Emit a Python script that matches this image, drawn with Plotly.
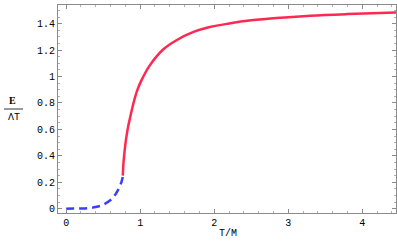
import plotly.graph_objects as go

# Data
red_x = [0.765, 0.775, 0.79, 0.81, 0.835, 0.862, 0.91, 0.96, 1.02, 1.13, 1.31, 1.49, 1.72, 1.94, 2.2, 2.5, 2.9, 3.3, 3.8, 4.46]
red_y = [0.25, 0.35, 0.44, 0.53, 0.615, 0.685, 0.80, 0.895, 0.975, 1.085, 1.205, 1.275, 1.338, 1.375, 1.402, 1.426, 1.446, 1.461, 1.473, 1.485]

blue_x = [0.0, 0.1, 0.2, 0.3, 0.4, 0.5, 0.6, 0.65, 0.7, 0.74, 0.765]
blue_y = [0.0, 0.0002, 0.001, 0.004, 0.012, 0.03, 0.065, 0.095, 0.14, 0.19, 0.24]

x_ticks = [0, 1, 2, 3, 4]
x_labels = ["0", "1", "2", "3", "4"]
y_ticks = [0, 0.2, 0.4, 0.6, 0.8, 1.0, 1.2, 1.4]
y_labels = ["0", "0.2", "0.4", "0.6", "0.8", "1", "1.2", "1.4"]

RED = "rgb(255,40,80)"
BLUE = "rgb(60,60,255)"
FRAME = "#8a8a8a"
FONT = "Liberation Mono"

fig = go.Figure()
fig.add_trace(go.Scatter(x=blue_x, y=blue_y, mode="lines",
                         line=dict(color=BLUE, width=2.5, dash="8px,5px", shape="spline"),
                         showlegend=False, hoverinfo="skip"))
fig.add_trace(go.Scatter(x=red_x, y=red_y, mode="lines",
                         line=dict(color=RED, width=2.5, shape="spline"),
                         showlegend=False, hoverinfo="skip"))

axis_common = dict(showgrid=False, zeroline=False, showline=True, linecolor=FRAME, linewidth=1,
                   mirror="ticks", ticks="inside", tickcolor=FRAME, ticklen=4, tickwidth=1,
                   tickfont=dict(family=FONT, size=10, color="#000"))

fig.update_layout(
    width=397, height=246,
    margin=dict(l=58, r=1, t=5, b=33),
    paper_bgcolor="white", plot_bgcolor="white",
    xaxis=dict(range=[-0.11, 4.455], tickvals=x_ticks, ticktext=x_labels,
               minor=dict(dtick=0.2, tick0=0, ticklen=2, tickcolor="#b0b0b0", ticks="inside"),
               **axis_common),
    yaxis=dict(range=[-0.033, 1.542], tickvals=y_ticks, ticktext=y_labels,
               minor=dict(dtick=0.05, tick0=0, ticklen=2, tickcolor="#b0b0b0", ticks="inside"),
               **axis_common),
)

# Axis titles
fig.add_annotation(text="T/M", xref="paper", yref="paper", x=(228 - 58) / 338, y=-(233 - 213) / 208,
                   showarrow=False, font=dict(family=FONT, size=10, color="#000"),
                   xanchor="center", yanchor="middle")
fig.add_annotation(text="<b>E</b>", xref="paper", yref="paper", x=(13 - 58) / 338, y=(213 - 100) / 208,
                   showarrow=False, font=dict(family="Liberation Serif", size=10, color="#000"),
                   xanchor="center", yanchor="middle")
fig.add_annotation(text="ΛT", xref="paper", yref="paper", x=(13.5 - 58) / 338, y=(213 - 117.5) / 208,
                   showarrow=False, font=dict(family=FONT, size=10, color="#000"),
                   xanchor="center", yanchor="middle")
fig.add_shape(type="line", xref="paper", yref="paper",
              x0=(4 - 58) / 338, x1=(23 - 58) / 338, y0=(213 - 109) / 208, y1=(213 - 109) / 208,
              line=dict(color="#000", width=0.8))

fig.write_html("out.html", config={"displayModeBar": False},
               post_script="document.body.style.margin='0';document.body.style.overflow='hidden';")
